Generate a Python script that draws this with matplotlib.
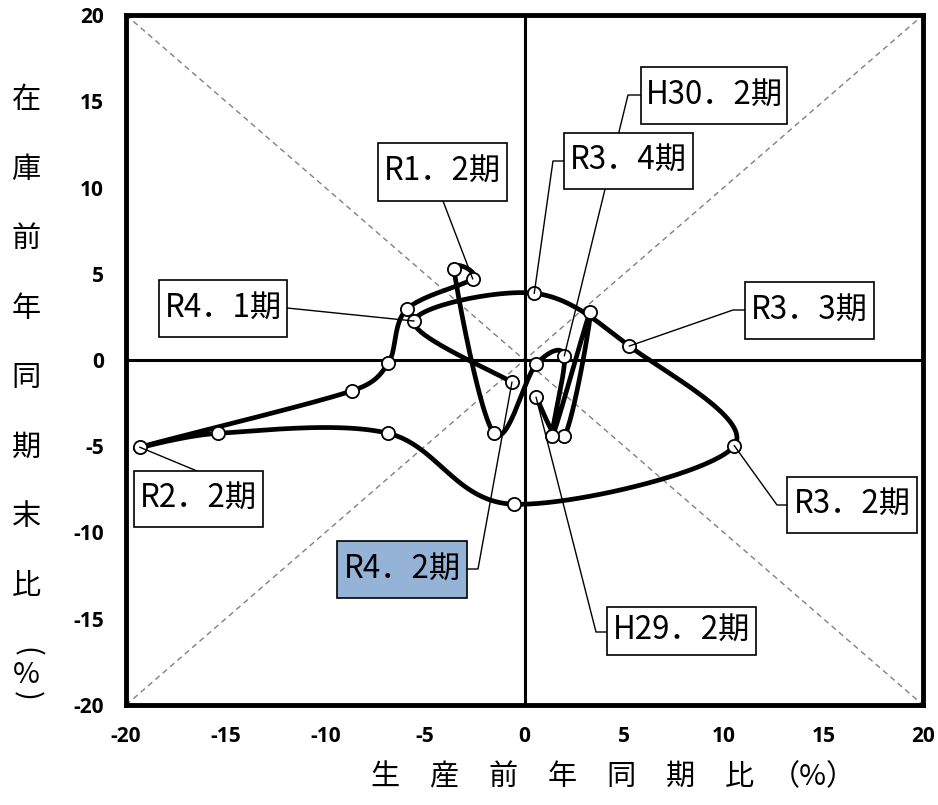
import numpy as np
import matplotlib
matplotlib.use('Agg')
import matplotlib.pyplot as plt
from matplotlib.patches import Rectangle

# ---------------- data ----------------
periods = ['H29.2', 'H29.3', 'H29.4', 'H30.1', 'H30.2', 'H30.3', 'H30.4',
           'R1.1', 'R1.2', 'R1.3', 'R1.4', 'R2.1', 'R2.2', 'R2.3', 'R2.4',
           'R3.1', 'R3.2', 'R3.3', 'R3.4', 'R4.1', 'R4.2']
production = [0.58, 2.00, 3.30, 1.40, 2.00, 0.58, -1.53,
              -3.54, -2.60, -5.91, -6.84, -8.64, -19.30, -15.37, -6.84,
              -0.55, 10.53, 5.26, 0.49, -5.55, -0.63]
inventory = [-2.16, -4.41, 2.77, -4.41, 0.25, -0.25, -4.25,
             5.26, 4.71, 2.94, -0.19, -1.78, -5.06, -4.25, -4.25,
             -8.36, -4.97, 0.81, 3.87, 2.26, -1.29]

label_periods = ['R1.2', 'H30.2', 'R3.4', 'R4.1', 'R3.3', 'R2.2', 'R3.2', 'R4.2', 'H29.2']
label_texts = ['R1．2期', 'H30．2期', 'R3．4期', 'R4．1期', 'R3．3期', 'R2．2期',
               'R3．2期', 'R4．2期', 'H29．2期']
highlight_period = 'R4.2'

x_ticks = [-20, -15, -10, -5, 0, 5, 10, 15, 20]
y_ticks = [-20, -15, -10, -5, 0, 5, 10, 15, 20]
x_title_chars = ['生', '産', '前', '年', '同', '期', '比', '（%）']
y_title_chars = ['在', '庫', '前', '年', '同', '期', '末', '比']

# ---------------- layout (pixels) ----------------
W, H = 938, 805
AX_L, AX_R, AX_T, AX_B = 126, 923, 15, 705
# box: left, top, right, bottom ; anchor on box ; elbow (or None)
label_layout = {
    'R1.2':  ((378, 143, 507, 201), (443, 201), None),
    'H30.2': ((641, 67, 787, 124), (641, 95), (628, 95)),
    'R3.4':  ((564, 133, 693, 189), (564, 161), (553, 161)),
    'R4.1':  ((159, 280, 287, 337), (287, 308), None),
    'R3.3':  ((745, 282, 874, 339), (745, 310), (733, 310)),
    'R2.2':  ((134, 471, 263, 527), (197, 471), None),
    'R3.2':  ((787, 477, 917, 533), (787, 505), (777, 505)),
    'R4.2':  ((337, 541, 467, 598), (467, 569), (478, 569)),
    'H29.2': ((607, 607, 756, 655), (607, 632), (596, 632)),
}

def ax_frac(px, py):
    return (px - AX_L) / (AX_R - AX_L), (AX_B - py) / (AX_B - AX_T)

fig = plt.figure(figsize=(W / 100, H / 100), dpi=100)
ax = fig.add_axes([AX_L / W, 1 - AX_B / H, (AX_R - AX_L) / W, (AX_B - AX_T) / H])
ax.set_xlim(-20, 20)
ax.set_ylim(-20, 20)

# guide lines
ax.plot([-20, 20], [20, -20], color='#808080', lw=1.0, dashes=(4, 3), zorder=1)
ax.plot([-20, 20], [-20, 20], color='#808080', lw=1.0, dashes=(4, 3), zorder=1)
ax.axhline(0, color='black', lw=2.2, zorder=1.5)
ax.axvline(0, color='black', lw=2.2, zorder=1.5)

# smoothed line (Excel-like Bezier) computed in display space
pts = ax.transData.transform(np.column_stack([production, inventory]))
n = len(pts)
curve = []
ts = np.linspace(0, 1, 50)
for i in range(n - 1):
    p0 = pts[i - 1] if i > 0 else pts[i]
    p1 = pts[i]
    p2 = pts[i + 1]
    p3 = pts[i + 2] if i + 2 < n else pts[i + 1]
    d12 = np.hypot(*(p2 - p1))
    d02 = np.hypot(*(p2 - p0))
    d13 = np.hypot(*(p3 - p1))
    f1 = 1 / 6
    f2 = 1 / 6
    if d02 > 0 and d02 / 6 > d12 / 2:
        f1 = d12 / (2 * d02)
    if d13 > 0 and d13 / 6 > d12 / 2:
        f2 = d12 / (2 * d13)
    c1 = p1 + f1 * (p2 - p0)
    c2 = p2 - f2 * (p3 - p1)
    for t in (ts if i == 0 else ts[1:]):
        b = ((1 - t) ** 3) * p1 + 3 * ((1 - t) ** 2) * t * c1 + 3 * (1 - t) * t ** 2 * c2 + t ** 3 * p2
        curve.append(b)
curve = ax.transData.inverted().transform(np.array(curve))
ax.plot(curve[:, 0], curve[:, 1], color='black', lw=3.4, solid_capstyle='round',
        solid_joinstyle='round', zorder=2)
ax.plot(production, inventory, 'o', ms=9.5, mfc='white', mec='black', mew=1.3, zorder=3)

# labels with connectors
to_data = ax.transAxes + ax.transData.inverted()
for per, txt in zip(label_periods, label_texts):
    (l, t, r, b), anc, elb = label_layout[per]
    k = periods.index(per)
    px, py = production[k], inventory[k]
    chain = [ax_frac(*anc)]
    if elb is not None:
        chain.append(ax_frac(*elb))
    chain_d = to_data.transform(np.array(chain))
    xs = list(chain_d[:, 0]) + [px]
    ys = list(chain_d[:, 1]) + [py]
    ax.plot(xs, ys, color='black', lw=1.0, zorder=4, clip_on=False)
    fl, fb = ax_frac(l, b)
    fr, ft = ax_frac(r, t)
    face = '#95B3D7' if per == highlight_period else 'white'
    rect = Rectangle((fl, fb), fr - fl, ft - fb, transform=ax.transAxes,
                     facecolor=face, edgecolor='black', lw=1.2, zorder=5, clip_on=False)
    ax.add_patch(rect)
    ax.text((fl + fr) / 2, (fb + ft) / 2, txt, transform=ax.transAxes,
            ha='center', va='center', fontsize=22.5, family=['Noto Sans CJK JP', 'DejaVu Sans'],
            zorder=6)

# axes style
for sp in ax.spines.values():
    sp.set_linewidth(3.5)
    sp.set_color('black')
    sp.set_zorder(7)
tick_font = dict(family=['Open Sans', 'DejaVu Sans'], fontweight='bold', fontsize=15)
ax.set_xticks(x_ticks)
ax.set_yticks(y_ticks)
ax.set_xticklabels([str(v) for v in x_ticks], **tick_font)
ax.set_yticklabels([str(v) for v in y_ticks], **tick_font)
ax.tick_params(length=0)
ax.tick_params(axis='x', pad=15)
ax.tick_params(axis='y', pad=16)

cjk = ['Noto Sans CJK JP', 'DejaVu Sans']
# x title
for i, ch in enumerate(x_title_chars):
    cx = 385 + 59 * i if i < 7 else 813
    fig.text(cx / W, 1 - 777 / H, ch, ha='center', va='center', fontsize=21, family=cjk)
# y title
for i, ch in enumerate(y_title_chars):
    cy = 100 + 69.5 * i
    fig.text(26 / W, 1 - cy / H, ch, ha='center', va='center', fontsize=21, family=cjk)
fig.text(26 / W, 1 - 652 / H, '(', ha='center', va='center', fontsize=21, family=cjk, rotation=-90)
fig.text(26 / W, 1 - 675 / H, '%', ha='center', va='center', fontsize=21, family=cjk)
fig.text(26 / W, 1 - 696 / H, ')', ha='center', va='center', fontsize=21, family=cjk, rotation=-90)

fig.savefig('out.png', dpi=100, facecolor='white')
